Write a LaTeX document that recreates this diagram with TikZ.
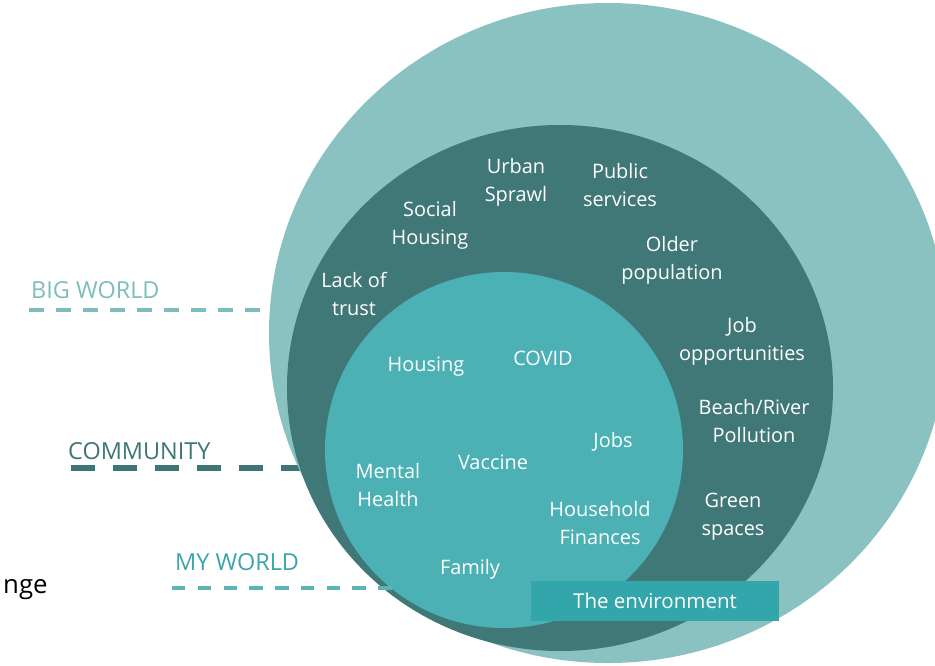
\documentclass[tikz,border=0pt]{standalone}
\usepackage{fontspec}
\setmainfont{Open Sans}
\usepackage{tikz}

\definecolor{outerteal}{HTML}{8AC1C1}
\definecolor{ringteal}{HTML}{407877}
\definecolor{innerteal}{HTML}{4BB1B5}
\definecolor{boxteal}{HTML}{32A6AB}
\definecolor{bigcol}{HTML}{7DBDBD}
\definecolor{comcol}{HTML}{3E7676}
\definecolor{mycol}{HTML}{3AA5A9}
\definecolor{mydash}{HTML}{5DB4B6}

\begin{document}
\begin{tikzpicture}[x=0.03cm, y=-0.03cm,
    lbl/.style={text=white, align=center, inner sep=0pt, font=\fontsize{17}{24}\selectfont},
    head/.style={anchor=base west, inner sep=0pt, font=\fontsize{20}{24}\selectfont},
    bigline/.style={draw=bigcol, line width=3.4pt, dash pattern=on 12.8pt off 10.2pt},
    comline/.style={draw=comcol, line width=5.1pt, dash pattern=on 20.5pt off 15.4pt},
    myline/.style={draw=mydash, line width=3.8pt, dash pattern=on 11.5pt off 10.5pt},
    envbox/.style={fill=boxteal, text=white, inner sep=0pt, minimum width=211.7pt,
        minimum height=34pt, font=\fontsize{17.5}{20}\selectfont}]
    \useasboundingbox (0, 0) rectangle (935, 665);

    % dashed level markers
    \coordinate (bigA) at (29, 310);
    \coordinate (bigB) at (272, 310);
    \coordinate (comA) at (71, 468);
    \coordinate (comB) at (302, 468);
    \coordinate (myA) at (172, 588);
    \coordinate (myB) at (392, 588);
    \draw[bigline] (bigA) -- (bigB);
    \draw[comline] (comA) -- (comB);

    % the three worlds
    \begin{scope}
        \clip (0, 0) rectangle (935, 665);
        \fill[outerteal] (608, 333) ellipse [x radius=339, y radius=330];
        \fill[ringteal] (560, 388) ellipse [x radius=273, y radius=263];
        \fill[innerteal] (504, 450) ellipse [x radius=179, y radius=178];
    \end{scope}
    \draw[myline] (myA) -- (myB);

    \node[head, text=bigcol] (bigworld) at (31, 298) {BIG WORLD};
    \node[head, text=comcol] (community) at (68, 459) {COMMUNITY};
    \node[head, text=mycol] (myworld) at (175, 570) {MY WORLD};
    \node[head, text=black, font=\fontsize{22}{26}\selectfont] (nge) at (3, 593) {nge};

    % community ring
    \node[lbl] (urban) at (516, 182) {Urban\\Sprawl};
    \node[lbl] (public) at (620, 185) {Public\\services};
    \node[lbl] (social) at (430, 225) {Social\\Housing};
    \node[lbl] (older) at (672, 260) {Older\\population};
    \node[lbl] (trust) at (354, 294) {Lack of\\trust};
    \node[lbl] (jobopp) at (742, 341) {Job\\opportunities};
    \node[lbl] (beach) at (754, 421) {Beach/River\\Pollution};
    \node[lbl] (green) at (733, 517) {Green\\spaces};

    % my world
    \node[lbl] (housing) at (426, 367) {Housing};
    \node[lbl] (covid) at (543, 358) {COVID};
    \node[lbl] (jobs) at (613, 442) {Jobs};
    \node[lbl] (vaccine) at (493, 462) {Vaccine};
    \node[lbl] (mental) at (388, 485) {Mental\\Health};
    \node[lbl] (finances) at (600, 523) {Household\\Finances};
    \node[lbl] (family) at (470, 569) {Family};

    \node[envbox] (env) at (655, 601) {The environment};
\end{tikzpicture}
\end{document}
